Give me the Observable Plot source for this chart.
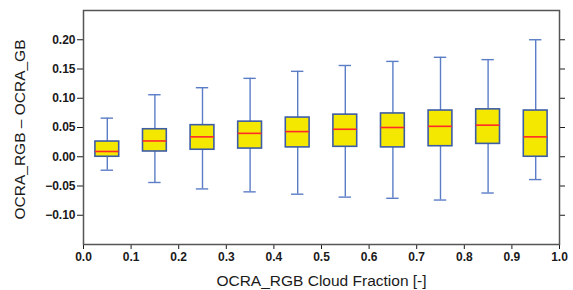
<!DOCTYPE html>
<html>
<head>
<meta charset="utf-8">
<script src="https://cdn.jsdelivr.net/npm/d3@7"></script>
<script src="https://cdn.jsdelivr.net/npm/@observablehq/plot@0.6"></script>
<style>
  html, body { margin: 0; padding: 0; background: #fff; }
  svg { display: block; }
</style>
</head>
<body>
<div id="chart"></div>
<script>
const centers  = [0.05, 0.15, 0.25, 0.35, 0.45, 0.55, 0.65, 0.75, 0.85, 0.95];
const whiskLow = [-0.023, -0.044, -0.055, -0.060, -0.064, -0.069, -0.071, -0.074, -0.062, -0.039];
const q1       = [0.000, 0.009, 0.012, 0.014, 0.016, 0.017, 0.016, 0.018, 0.022, 0.000];
const medians  = [0.009, 0.027, 0.034, 0.040, 0.043, 0.047, 0.050, 0.052, 0.054, 0.034];
const q3       = [0.026, 0.047, 0.054, 0.060, 0.067, 0.072, 0.074, 0.079, 0.081, 0.079];
const whiskHigh= [0.066, 0.106, 0.118, 0.134, 0.146, 0.156, 0.163, 0.170, 0.166, 0.200];
const yTicks = [-0.10, -0.05, 0.00, 0.05, 0.10, 0.15, 0.20];
const xTicks = [0.0, 0.1, 0.2, 0.3, 0.4, 0.5, 0.6, 0.7, 0.8, 0.9, 1.0];

const data = centers.map((c, i) => ({c, lo: whiskLow[i], q1: q1[i], med: medians[i], q3: q3[i], hi: whiskHigh[i]}));
const halfBox = 0.025, halfCap = 0.013;
const whiskColor = "#5b7dc6", boxStroke = "#3d5ca6";

const plot = Plot.plot({
  width: 573,
  height: 290,
  marginLeft: 83,
  marginRight: 14,
  marginTop: 10,
  marginBottom: 46,
  style: {fontFamily: "'Liberation Sans', Arial, sans-serif", background: "#fff", color: "#1a1a1a"},
  x: {domain: [0, 1]},
  y: {domain: [-0.15, 0.25]},
  marks: [
    Plot.axisX({ticks: xTicks, tickFormat: d3.format(".1f"), tickSize: 5, tickPadding: 3, fontSize: 12, fontWeight: "bold", label: null}),
    Plot.axisY({ticks: yTicks, tickFormat: d3.format(".2f"), tickSize: 6, tickPadding: 2, fontSize: 12, fontWeight: "bold", label: null}),
    Plot.axisY({anchor: "right", ticks: yTicks, tickFormat: () => "", tickSize: 5, label: null}),
    Plot.text(["OCRA_RGB Cloud Fraction [-]"], {frameAnchor: "bottom", dy: 41, fontSize: 15.5, fill: "#1a1a1a"}),
    Plot.text(["OCRA_RGB \u2013 OCRA_GB"], {frameAnchor: "left", textAnchor: "middle", dx: -63, dy: 2, rotate: -90, fontSize: 15.5, fill: "#1a1a1a"}),
    Plot.ruleX(data, {x: "c", y1: "lo", y2: "q1", stroke: whiskColor, strokeWidth: 1.4}),
    Plot.ruleX(data, {x: "c", y1: "q3", y2: "hi", stroke: whiskColor, strokeWidth: 1.4}),
    Plot.ruleY(data, {y: "lo", x1: d => d.c - halfCap, x2: d => d.c + halfCap, stroke: whiskColor, strokeWidth: 1.4}),
    Plot.ruleY(data, {y: "hi", x1: d => d.c - halfCap, x2: d => d.c + halfCap, stroke: whiskColor, strokeWidth: 1.4}),
    Plot.rect(data, {x1: d => d.c - halfBox, x2: d => d.c + halfBox, y1: "q1", y2: "q3", fill: "#f5e800", stroke: boxStroke, strokeWidth: 1.6}),
    Plot.ruleY(data, {y: "med", x1: d => d.c - halfBox, x2: d => d.c + halfBox, stroke: "#ff2a2a", strokeWidth: 1.6}),
    Plot.frame({stroke: "#555", strokeWidth: 1.5})
  ]
});
document.getElementById("chart").appendChild(plot);
</script>
</body>
</html>
